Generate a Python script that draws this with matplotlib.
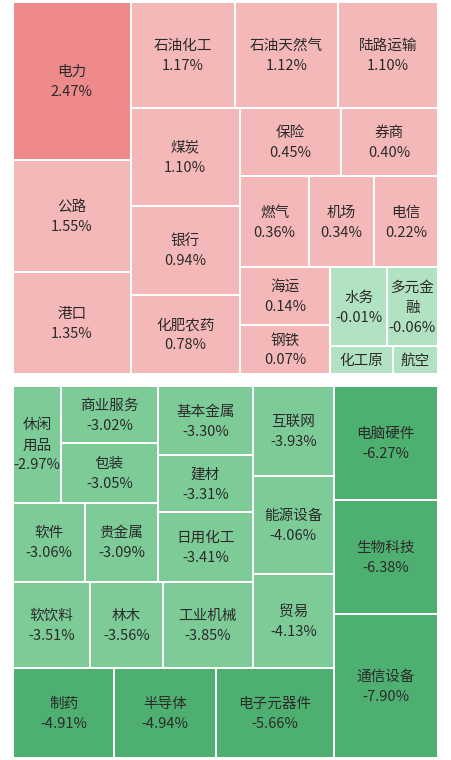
import matplotlib
matplotlib.use("Agg")
import matplotlib.pyplot as plt
from matplotlib.patches import Rectangle

plt.rcParams['font.family'] = ['Noto Sans CJK SC', 'DejaVu Sans']

names = ["电力","公路","港口","石油化工","石油天然气","陆路运输","煤炭","银行","化肥农药",
         "保险","券商","燃气","机场","电信","海运","钢铁","水务","多元金\n融","化工原","航空",
         "电脑硬件","生物科技","通信设备","制药","半导体","电子元器件","互联网","能源设备","贸易",
         "软饮料","林木","工业机械","基本金属","建材","日用化工","休闲\n用品","商业服务","包装","软件","贵金属"]
values = [2.47,1.55,1.35,1.17,1.12,1.10,1.10,0.94,0.78,0.45,0.40,0.36,0.34,0.22,0.14,0.07,-0.01,-0.06,None,None,
          -6.27,-6.38,-7.90,-4.91,-4.94,-5.66,-3.93,-4.06,-4.13,-3.51,-3.56,-3.85,-3.30,-3.31,-3.41,-2.97,-3.02,-3.05,-3.06,-3.09]

# layout tree: ('h'|'v', [(weight, child)]) ; leaf = name index
top_tree = ('h', [(117, ('v', [(157, 0), (112, 1), (101, 2)])),
                  (306, ('v', [(105, ('h', [(104, 3), (102, 4), (100, 5)])),
                               (265, ('h', [(109, ('v', [(98, 6), (88, 7), (79, 8)])),
                                            (197, ('v', [(68, ('h', [(100, 9), (97, 10)])),
                                                         (91, ('h', [(69, 11), (64, 12), (64, 13)])),
                                                         (106, ('h', [(90, ('v', [(57, 14), (49, 15)])),
                                                                      (107, ('v', [(78, ('h', [(56, 16), (51, 17)])),
                                                                                   (28, ('h', [(62, 18), (45, 19)]))]))]))]))]))]))])
bot_tree = ('h', [(319, ('v', [(280, ('h', [(239, ('v', [(195, ('h', [(144, ('v', [(116, ('h', [(48, 35), (96, ('v', [(57, 36), (59, 37)]))])),
                                                                                          (79, ('h', [(72, 38), (72, 39)]))])),
                                                                      (95, ('v', [(69, 32), (56, 33), (70, 34)]))])),
                                                         (85, ('h', [(77, 29), (72, 30), (90, 31)]))])),
                                            (80, ('v', [(90, 26), (97, 27), (93, 28)]))])),
                               (90, ('h', [(101, 23), (101, 24), (117, 25)]))])),
                  (104, ('v', [(113, 20), (114, 21), (143, 22)]))])

def color(i):
    v = values[i]
    if i == 0: return "#ee8a8a"
    if v is None or v < 0 and v > -1: return "#b1e2c2" if i < 20 else "#7dcb97"
    if v > 0: return "#f5b8b8"
    if v > -4.5: return "#7dcb97"
    return "#4daf70"

fig = plt.figure(figsize=(4.51, 7.6), dpi=100)
ax = fig.add_axes([0, 0, 1, 1])
ax.set_xlim(0, 451); ax.set_ylim(760, 0); ax.axis('off')

def layout(node, x, y, w, h):
    if isinstance(node, int):
        ax.add_patch(Rectangle((x + 1, y + 1), w - 2, h - 2, facecolor=color(node), edgecolor='none'))
        v = values[node]
        txt = names[node] if v is None else f"{names[node]}\n{v:.2f}%"
        ax.text(x + w / 2, y + h / 2 + 1, txt, ha='center', va='center', fontsize=10.5,
                color='#2b2b2b', linespacing=1.55)
        return
    d, kids = node
    tot = sum(k[0] for k in kids)
    pos = x if d == 'h' else y
    for wt, ch in kids:
        if d == 'h':
            cw = w * wt / tot; layout(ch, pos, y, cw, h); pos += cw
        else:
            chh = h * wt / tot; layout(ch, x, pos, w, chh); pos += chh

layout(top_tree, 13, 2, 425, 372)
layout(bot_tree, 13, 386, 425, 372)
fig.savefig("out.png", dpi=100)
